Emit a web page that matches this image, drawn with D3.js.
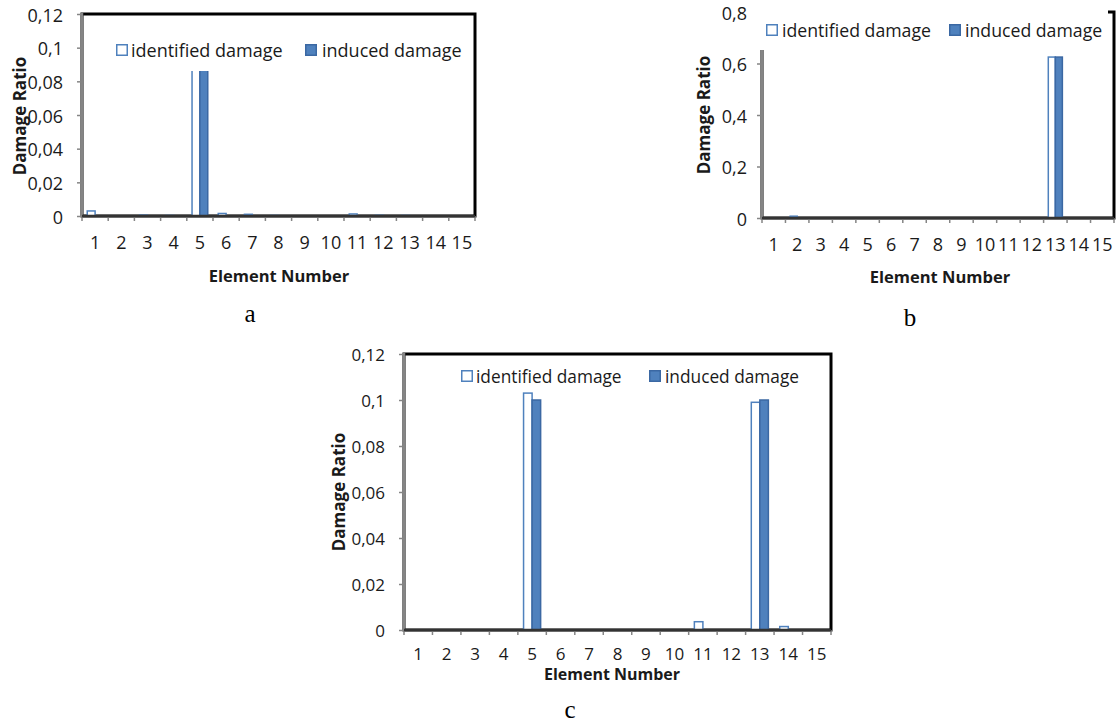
<!DOCTYPE html>
<html>
<head>
<meta charset="utf-8">
<script src="https://cdn.jsdelivr.net/npm/d3@7"></script>
<style>
  html, body { margin: 0; padding: 0; background: #fff; }
  svg { display: block; }
</style>
</head>
<body>
<svg id="chart" width="1118" height="724"></svg>
<script>
// Element numbers along the x axis
const elements = [1, 2, 3, 4, 5, 6, 7, 8, 9, 10, 11, 12, 13, 14, 15];

// Y tick values for each panel
const ticksA = [0, 0.02, 0.04, 0.06, 0.08, 0.1, 0.12];
const ticksB = [0, 0.2, 0.4, 0.6, 0.8];
const ticksC = [0, 0.02, 0.04, 0.06, 0.08, 0.1, 0.12];

// Panel a: single damage at element 5
const identifiedA = [0.003, 0, 0.0005, 0.0003, 0.1, 0.0015, 0.001, 0.0003, 0, 0, 0.0012, 0.0004, 0.0003, 0, 0];
const inducedA    = [0, 0, 0, 0, 0.1, 0, 0, 0, 0, 0, 0, 0, 0, 0, 0];

// Panel b: single damage at element 13
const identifiedB = [0, 0.007, 0, 0, 0, 0, 0, 0, 0, 0, 0, 0, 0.625, 0, 0];
const inducedB    = [0, 0, 0, 0, 0, 0, 0, 0, 0, 0, 0, 0, 0.625, 0, 0];

// Panel c: multiple damage at elements 5 and 13
const identifiedC = [0, 0, 0, 0, 0.103, 0, 0, 0, 0, 0, 0.0036, 0, 0.099, 0.0015, 0];
const inducedC    = [0, 0, 0, 0, 0.1, 0, 0, 0, 0, 0, 0, 0, 0.1, 0, 0];

const seriesNames = ["identified damage", "induced damage"];
const panelLetters = ["a", "b", "c"];

const BLUE = "#4f81bd";
const BLUE_DARK = "#3b68a3";
const AXIS_GREY = "#858585";
const FONT = "'Open Sans', 'DejaVu Sans', sans-serif";

const svg = d3.select("#chart");

const fmt = d => String(d).replace(".", ",");

const panels = [
  {
    letter: panelLetters[0], identified: identifiedA, induced: inducedA,
    domain: [0, 0.12], ticks: ticksA,
    left: 82, right: 475, top: 14, bottom: 216,
    yLabelRight: 63, xLabelY: 242, tickFont: 18, xTitleFont: 16.5,
    yTitle: [19, 116], xTitle: [279, 275],
    legendBox: [108, 29, 360, 42], legendY: 50, legendFont: 18,
    legendItems: [[116, 131], [305, 322]],
    caption: [250, 313]
  },
  {
    letter: panelLetters[1], identified: identifiedB, induced: inducedB,
    domain: [0, 0.8], ticks: ticksB,
    left: 762, right: 1114, top: 12, bottom: 218,
    yLabelRight: 747, xLabelY: 244, tickFont: 18, xTitleFont: 16.5,
    yTitle: [703, 115], xTitle: [940, 276],
    legendBox: [752, 6, 356, 44], legendY: 30, legendFont: 17.7,
    legendItems: [[766, 782], [949, 965]],
    caption: [910, 317]
  },
  {
    letter: panelLetters[2], identified: identifiedC, induced: inducedC,
    domain: [0, 0.12], ticks: ticksC,
    left: 404, right: 831, top: 354, bottom: 630,
    yLabelRight: 385, xLabelY: 653, tickFont: 17, xTitleFont: 16,
    yTitle: [338, 492], xTitle: [612, 674],
    legendBox: [455, 360, 345, 32], legendY: 376, legendFont: 17.3,
    legendItems: [[461, 476], [649, 665]],
    caption: [570, 709]
  }
];

function drawPanel(p) {
  const g = svg.append("g").attr("class", "panel-" + p.letter);

  const x = d3.scaleBand().domain(elements).range([p.left, p.right]).padding(0);
  const inner = d3.scaleBand().domain(seriesNames)
    .range([0, x.bandwidth()]).paddingInner(0).paddingOuter(2 / 3);
  const y = d3.scaleLinear().domain(p.domain).range([p.bottom, p.top]);

  // Plot area frame
  g.append("rect")
    .attr("x", p.left).attr("y", p.top)
    .attr("width", p.right - p.left).attr("height", p.bottom - p.top)
    .attr("fill", "none").attr("stroke", "#000").attr("stroke-width", 3);

  // Bars
  const rows = elements.map((e, i) => ({ e, identified: p.identified[i], induced: p.induced[i] }));
  const barData = [];
  rows.forEach(r => {
    if (r.identified > 0) barData.push({ e: r.e, s: seriesNames[0], v: r.identified });
    if (r.induced > 0) barData.push({ e: r.e, s: seriesNames[1], v: r.induced });
  });
  g.selectAll("rect.bar").data(barData).join("rect")
    .attr("class", "bar")
    .attr("x", d => x(d.e) + inner(d.s))
    .attr("y", d => y(d.v))
    .attr("width", inner.bandwidth())
    .attr("height", d => y(0) - y(d.v))
    .attr("fill", d => d.s === seriesNames[0] ? "#fff" : BLUE)
    .attr("stroke", d => d.s === seriesNames[0] ? BLUE : BLUE_DARK)
    .attr("stroke-width", 1.5);

  // Y axis
  const yAxis = g.append("g")
    .attr("transform", `translate(${p.left},0)`)
    .call(d3.axisLeft(y).tickValues(p.ticks).tickFormat(fmt)
      .tickSize(5).tickPadding(p.left - p.yLabelRight - 5));
  yAxis.select(".domain").remove();
  yAxis.selectAll(".tick line").attr("stroke", AXIS_GREY).attr("stroke-width", 1.5);
  yAxis.selectAll(".tick text")
    .attr("font-family", FONT).attr("font-size", p.tickFont).attr("fill", "#1a1a1a")
    .attr("dy", null).attr("dominant-baseline", "central");

  // X axis: labels at band centres, tick marks at band boundaries
  const xAxis = g.append("g")
    .attr("transform", `translate(0,${p.bottom})`)
    .call(d3.axisBottom(x).tickSize(0));
  xAxis.select(".domain").remove();
  xAxis.selectAll(".tick text")
    .attr("font-family", FONT).attr("font-size", p.tickFont).attr("fill", "#1a1a1a")
    .attr("y", p.xLabelY - p.bottom).attr("dy", null).attr("dominant-baseline", "central");

  const bounds = elements.map(e => x(e)).concat([x.range()[1]]);
  g.selectAll("line.xtick").data(bounds).join("line")
    .attr("class", "xtick")
    .attr("x1", d => d).attr("x2", d => d)
    .attr("y1", p.bottom).attr("y2", p.bottom + 5)
    .attr("stroke", AXIS_GREY).attr("stroke-width", 1.5);

  // Axis lines over the frame
  g.append("line")
    .attr("x1", p.left).attr("x2", p.left).attr("y1", p.top - 1.5).attr("y2", p.bottom)
    .attr("stroke", AXIS_GREY).attr("stroke-width", 2.5);
  g.append("line")
    .attr("x1", p.left).attr("x2", p.right).attr("y1", p.bottom).attr("y2", p.bottom)
    .attr("stroke", "#333").attr("stroke-width", 2.5);

  // Legend (white box over the plot)
  const [bx, by, bw, bh] = p.legendBox;
  g.append("rect").attr("x", bx).attr("y", by).attr("width", bw).attr("height", bh).attr("fill", "#fff");
  seriesNames.forEach((name, i) => {
    const [mx, tx] = p.legendItems[i];
    g.append("rect")
      .attr("x", mx + 0.75).attr("y", p.legendY - 5.25)
      .attr("width", 10.5).attr("height", 10.5)
      .attr("fill", i === 0 ? "#fff" : BLUE)
      .attr("stroke", i === 0 ? BLUE : BLUE_DARK).attr("stroke-width", 1.5);
    g.append("text")
      .attr("x", tx).attr("y", p.legendY)
      .attr("dominant-baseline", "central")
      .attr("font-family", FONT).attr("font-size", p.legendFont).attr("fill", "#1a1a1a")
      .text(name);
  });

  // Axis titles
  g.append("text")
    .attr("transform", `translate(${p.yTitle[0]},${p.yTitle[1]}) rotate(-90)`)
    .attr("text-anchor", "middle").attr("dominant-baseline", "central")
    .attr("font-family", FONT).attr("font-weight", "bold").attr("font-size", 17).attr("fill", "#1a1a1a")
    .text("Damage Ratio");
  g.append("text")
    .attr("x", p.xTitle[0]).attr("y", p.xTitle[1])
    .attr("text-anchor", "middle").attr("dominant-baseline", "central")
    .attr("font-family", FONT).attr("font-weight", "bold").attr("font-size", p.xTitleFont).attr("fill", "#1a1a1a")
    .text("Element Number");

  // Panel caption
  g.append("text")
    .attr("x", p.caption[0]).attr("y", p.caption[1])
    .attr("text-anchor", "middle").attr("dominant-baseline", "central")
    .attr("font-family", "'Liberation Serif', 'Times New Roman', serif")
    .attr("font-size", 25).attr("fill", "#000")
    .text(p.letter);
}

panels.forEach(drawPanel);
</script>
</body>
</html>
